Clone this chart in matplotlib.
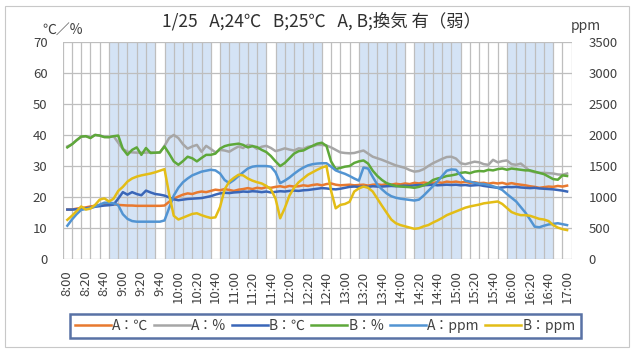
import matplotlib
matplotlib.use("Agg")
import matplotlib.pyplot as plt
import numpy as np
from matplotlib.patches import Rectangle
from matplotlib.lines import Line2D

plt.rcParams['font.family'] = ['Noto Sans CJK JP', 'DejaVu Sans']

# readings every 5 minutes from 8:00 to 17:00
step_min = 5
a_temp = [16.0, 16.0, 16.3, 16.5, 16.7, 17.0, 17.2, 17.4, 17.5, 17.6, 17.7, 17.5, 17.4, 17.3, 17.3, 17.2,
          17.2, 17.2, 17.2, 17.2, 17.2, 17.3, 18.5, 19.5, 20.2, 20.8, 21.2, 21.0, 21.5, 21.8, 21.6, 22.0,
          22.4, 22.2, 22.6, 22.3, 22.0, 22.4, 22.6, 22.9, 22.6, 23.0, 22.8, 23.2, 23.0, 23.3, 23.5, 23.2,
          23.6, 23.4, 23.5, 23.8, 23.6, 23.9, 24.1, 23.8, 24.2, 24.4, 24.0, 23.8, 23.9, 24.0, 23.8, 23.9,
          24.0, 23.7, 24.0, 24.1, 23.9, 24.2, 24.0, 24.3, 24.1, 24.4, 24.2, 24.6, 24.4, 24.7, 24.5, 24.6,
          24.8, 24.6, 25.0, 24.8, 25.0, 24.7, 24.9, 24.6, 24.8, 24.5, 24.6, 24.3, 24.6, 24.4, 24.6, 24.2,
          24.5, 24.2, 24.0, 23.8, 23.5, 23.3, 23.0, 23.2, 23.4, 23.3, 23.6, 23.4, 23.7]
a_hum = [36.3, 37.0, 38.3, 39.4, 39.6, 39.2, 40.0, 39.8, 39.4, 39.3, 39.6, 37.5, 35.5, 34.6, 34.4, 34.3,
         34.3, 34.3, 34.4, 34.3, 34.3, 36.5, 39.0, 40.0, 39.0, 37.0, 35.6, 36.3, 36.8, 34.6, 36.5, 35.5,
         34.4, 35.2, 35.0, 34.6, 35.5, 36.3, 35.8, 36.8, 36.5, 35.5, 36.2, 36.5, 35.8, 34.8, 35.2, 35.7,
         35.3, 35.0, 35.7, 35.5, 36.2, 36.4, 36.8, 36.8, 36.6, 36.0, 35.2, 34.4, 34.2, 34.1, 34.2, 34.6,
         35.0, 34.0, 33.0, 32.5, 32.0, 31.4, 30.8, 30.2, 29.8, 29.4, 28.7, 28.2, 28.4, 29.0, 30.0, 30.9,
         31.6, 32.3, 32.9, 33.0, 32.4, 30.9, 30.6, 31.0, 31.4, 31.2, 30.6, 30.4, 32.0, 31.2, 31.6, 31.8,
         30.6, 30.4, 30.8, 29.6, 28.4, 28.0, 27.8, 27.8, 27.7, 27.6, 27.3, 27.2, 27.6]
b_temp = [16.0, 16.0, 16.1, 16.2, 16.4, 16.6, 16.9, 17.1, 17.3, 17.4, 17.6, 19.5, 21.6, 20.8, 21.6, 21.0,
          20.6, 22.1, 21.5, 21.0, 20.8, 20.5, 19.9, 19.3, 19.0, 19.2, 19.4, 19.5, 19.6, 19.7, 20.0, 20.3,
          20.8, 21.2, 21.4, 21.3, 21.5, 21.6, 21.8, 21.7, 21.9, 21.8, 21.6, 21.8, 21.5, 21.7, 21.9, 21.8,
          22.0, 22.1, 22.0, 22.2, 22.3, 22.5, 22.7, 22.9, 22.8, 22.6, 22.5, 22.7, 23.0, 23.3, 23.4, 23.3,
          23.4, 23.3, 23.5, 23.4, 23.4, 23.5, 23.6, 23.5, 23.6, 23.7, 23.6, 23.8, 23.9, 23.8, 23.9, 24.0,
          23.8, 23.9, 24.0, 23.9, 24.0, 23.8, 23.9, 23.7, 23.8, 23.9, 23.6, 23.4, 23.2, 23.0, 23.1, 23.3,
          23.2, 23.3, 23.1, 23.0, 22.9, 23.0, 22.8, 22.7, 22.6, 22.5, 22.3, 22.1, 21.8]
b_hum = [36.0, 37.0, 38.3, 39.5, 39.6, 39.0, 40.0, 39.8, 39.3, 39.3, 39.6, 39.8, 35.5, 33.6, 35.2, 36.0,
         33.6, 35.8, 34.2, 34.3, 34.4, 36.3, 34.0, 31.5, 30.4, 31.6, 33.0, 32.5, 31.5, 32.6, 33.6, 33.6,
         34.0, 35.6, 36.4, 36.8, 37.0, 37.2, 36.8, 36.0, 36.4, 36.1, 35.2, 34.5, 33.2, 31.5, 30.0, 31.0,
         32.5, 34.0, 34.8, 35.0, 35.8, 36.5, 37.2, 37.5, 36.5, 31.5, 29.0, 29.4, 29.8, 30.0, 31.0, 31.5,
         31.8, 30.8, 28.5, 26.8, 25.5, 24.5, 24.0, 23.6, 23.4, 23.3, 23.2, 23.0, 23.3, 23.8, 24.4, 25.5,
         26.0, 26.3, 26.8, 27.0, 27.3, 27.8, 28.0, 27.7, 28.2, 28.4, 28.3, 28.8, 28.6, 29.0, 29.2, 28.8,
         29.2, 29.0, 28.8, 28.6, 28.6, 28.2, 27.8, 27.4, 26.6, 25.8, 25.6, 27.0, 26.8]
a_ppm = [540, 640, 725, 795, 810, 825, 850, 880, 910, 910, 900, 870, 725, 650, 615, 605,
         605, 605, 605, 605, 605, 625, 825, 1025, 1150, 1240, 1300, 1350, 1380, 1410, 1425, 1440,
         1430, 1380, 1275, 1225, 1275, 1340, 1400, 1460, 1490, 1500, 1500, 1500, 1490, 1400, 1225, 1265,
         1315, 1375, 1430, 1475, 1510, 1530, 1540, 1545, 1545, 1490, 1430, 1400, 1375, 1340, 1300, 1265,
         1475, 1460, 1325, 1200, 1125, 1060, 1015, 990, 975, 965, 955, 945, 960, 1025, 1100, 1175,
         1250, 1340, 1425, 1445, 1440, 1350, 1265, 1250, 1230, 1215, 1210, 1195, 1175, 1150, 1115, 1050,
         990, 930, 840, 750, 640, 525, 515, 540, 560, 570, 580, 565, 550]
b_ppm = [635, 700, 775, 850, 800, 815, 875, 960, 980, 930, 975, 1100, 1165, 1250, 1300, 1330,
         1350, 1365, 1380, 1400, 1425, 1450, 1050, 700, 640, 670, 700, 730, 740, 710, 685, 665,
         675, 840, 1125, 1250, 1310, 1360, 1350, 1300, 1265, 1240, 1220, 1180, 1125, 975, 660, 825,
         1025, 1150, 1240, 1300, 1360, 1400, 1440, 1475, 1500, 1100, 820, 875, 890, 925, 1090, 1140,
         1170, 1150, 1090, 975, 860, 750, 640, 580, 550, 530, 510, 490, 500, 530, 550, 590, 625,
         665, 710, 740, 770, 800, 830, 850, 865, 880, 900, 910, 920, 930, 890, 825, 760, 730, 710,
         710, 700, 675, 650, 640, 615, 550, 510, 485, 470]

series_names = ["A：℃", "A：%", "B：℃", "B：%", "A：ppm", "B：ppm"]
series_colors = ["#E8792F", "#A6A6A6", "#3A66B8", "#5EA83A", "#5294D2", "#E3BD16"]

time_labels = ["8:00", "8:20", "8:40", "9:00", "9:20", "9:40", "10:00", "10:20", "10:40",
               "11:00", "11:20", "11:40", "12:00", "12:20", "12:40", "13:00", "13:20", "13:40",
               "14:00", "14:20", "14:40", "15:00", "15:20", "15:40", "16:00", "16:20", "16:40", "17:00"]

# ventilation periods (first and last 10-minute slot)
band_start = ["8:50", "9:50", "10:50", "11:50", "13:20", "14:20", "16:00"]
band_end = ["9:30", "10:30", "11:30", "12:30", "14:00", "15:00", "16:40"]


def to_minutes(hhmm):
    h, m = hhmm.split(":")
    return (int(h) - 8) * 60 + int(m)


minutes = np.arange(len(a_temp)) * step_min
slot = 10

W, H = 636, 352
fig = plt.figure(figsize=(W / 100, H / 100), dpi=100)
fig.patches.append(Rectangle((5 / W, 5 / H), 624 / W, 341 / H, transform=fig.transFigure,
                             fill=False, edgecolor="#C8C8C8", lw=0.8))

ax = fig.add_axes([62.7 / W, 1 - 259.3 / H, 509 / W, 217.6 / H])
ax2 = ax.twinx()

for s, e in zip(band_start, band_end):
    ax.axvspan(to_minutes(s) - slot / 2, to_minutes(e) + slot / 2, color="#D4E3F5", lw=0, zorder=0.5)

x_end = to_minutes("17:00") + slot / 2
ax.set_xlim(-slot / 2, x_end)
ax.set_ylim(0, 70)
ax2.set_ylim(0, 3500)

y_ticks = list(range(0, 71, 10))
ax.set_yticks(y_ticks)
ax2.set_yticks(range(0, 3501, 500))
ax.set_xticks([to_minutes(t) for t in time_labels])
ax.set_xticklabels(time_labels, rotation=90)

# grid: one line per 10-minute slot boundary and per value step, drawn over the bands
grid_c = "#BEBEBE"
for xv in np.arange(-slot / 2, x_end + 1, slot):
    ax.axvline(xv, color=grid_c, lw=0.9, zorder=1)
for yv in y_ticks:
    ax.axhline(yv, color=grid_c, lw=0.9, zorder=1)

txt_c = "#404040"
ax.tick_params(axis="y", length=0, pad=11, labelsize=9.5, labelcolor=txt_c)
ax2.tick_params(axis="y", length=0, pad=12, labelsize=9.5, labelcolor=txt_c)
ax.tick_params(axis="x", which="both", length=0, pad=8, labelsize=9.5, labelcolor=txt_c)
for a in (ax, ax2):
    for sp in a.spines.values():
        sp.set_visible(False)

lw = 1.8
left_series = [a_temp, a_hum, b_temp, b_hum]
for vals, c in zip(left_series, series_colors[:4]):
    ax.plot(minutes, vals, color=c, lw=lw, zorder=3)
for vals, c in zip([a_ppm, b_ppm], series_colors[4:]):
    ax2.plot(minutes, vals, color=c, lw=lw, zorder=3)

fig.text(322 / W, 1 - 21 / H, "1/25   A;24℃   B;25℃   A, B;換気 有（弱）", ha="center", va="center",
         fontsize=12.5, color="#303030")
fig.text(42 / W, 1 - 30 / H, "℃／%", ha="left", va="center", fontsize=10, color=txt_c)
fig.text(571 / W, 1 - 26 / H, "ppm", ha="left", va="center", fontsize=10, color=txt_c)

handles = [Line2D([], [], color=c, lw=lw) for c in series_colors]
leg = fig.legend(handles, series_names, loc="center", ncol=6, mode="expand",
                 bbox_to_anchor=(62.7 / W, 1 - 341 / H, 525 / W, 30 / H),
                 fontsize=10, frameon=True, fancybox=False, handlelength=2.6,
                 handletextpad=0.1, borderpad=0.35, labelcolor=txt_c)
leg.get_frame().set_edgecolor("#2F4F8F")
leg.get_frame().set_linewidth(1.8)

fig.savefig("out.png", dpi=100)
